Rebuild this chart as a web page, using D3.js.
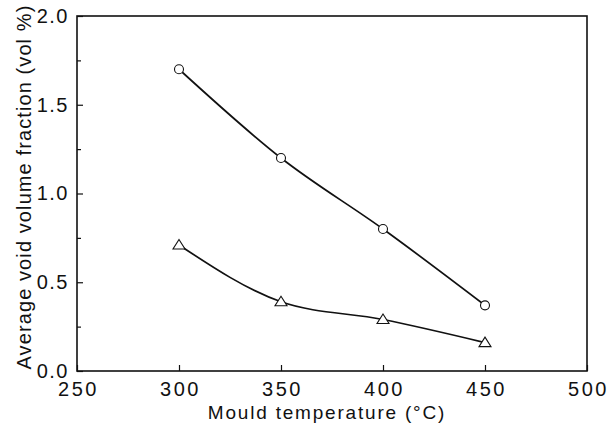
<!DOCTYPE html>
<html>
<head>
<meta charset="utf-8">
<script src="https://cdn.jsdelivr.net/npm/d3@7"></script>
<style>
  body { margin: 0; background: #fff; }
  text { font-family: "Liberation Sans", Arial, sans-serif; fill: #111; }
</style>
</head>
<body>
<script>
// page size
var w = 614;
var h = 426;

// data
var temps = [300, 350, 400, 450];
var circleVals = [1.70, 1.20, 0.80, 0.37];
var triangleVals = [0.71, 0.39, 0.29, 0.16];
var xTicks = [250, 300, 350, 400, 450, 500];
var yTicks = [0, 0.5, 1.0, 1.5, 2.0];
var yMinor = [0.25, 0.75, 1.25, 1.75];

var margin = {left: 77, right: 27, top: 16, bottom: 55};

var svg = d3.select("body").append("svg")
  .attr("width", w)
  .attr("height", h);

var x = d3.scaleLinear().domain([250, 500]).range([margin.left, w - margin.right]);
var y = d3.scaleLinear().domain([0, 2]).range([h - margin.bottom, margin.top]);

// frame
svg.append("rect")
  .attr("x", x(250)).attr("y", y(2))
  .attr("width", x(500) - x(250)).attr("height", y(0) - y(2))
  .attr("fill", "none").attr("stroke", "#111").attr("stroke-width", 1.6);

// axes, ticks pointing inward
var xAxis = svg.append("g")
  .attr("class", "xaxis")
  .attr("transform", "translate(0," + y(0) + ")")
  .call(d3.axisBottom(x).tickValues(xTicks).tickSizeInner(-6).tickSizeOuter(0).tickPadding(11)
    .tickFormat(d3.format("d")));
var yAxis = svg.append("g")
  .attr("class", "yaxis")
  .attr("transform", "translate(" + x(250) + ",0)")
  .call(d3.axisLeft(y).tickValues(yTicks).tickSizeInner(-6).tickSizeOuter(0).tickPadding(8)
    .tickFormat(d3.format(".1f")));
svg.append("g")
  .attr("transform", "translate(" + x(250) + ",0)")
  .call(d3.axisLeft(y).tickValues(yMinor).tickSizeInner(-4).tickSizeOuter(0).tickFormat(""));

svg.selectAll(".domain").remove();
svg.selectAll(".tick line").attr("stroke", "#111").attr("stroke-width", 1.2);
svg.selectAll(".tick text").style("font-size", "20px").attr("fill", "#111");
xAxis.selectAll(".tick text").style("letter-spacing", "2.5px").attr("dx", "1px");
yAxis.selectAll(".tick text").style("letter-spacing", "1.5px");

// titles
svg.append("text")
  .attr("x", 327)
  .attr("y", 419)
  .attr("text-anchor", "middle")
  .style("font-size", "19px")
  .style("letter-spacing", "1.8px")
  .text("Mould temperature (\u00B0C)");

svg.append("text")
  .attr("transform", "translate(31,187) rotate(-90)")
  .attr("text-anchor", "middle")
  .style("font-size", "20px")
  .style("letter-spacing", "1.1px")
  .text("Average void volume fraction (vol %)");

var line = d3.line()
  .x(function(d) { return x(d[0]); })
  .y(function(d) { return y(d[1]); })
  .curve(d3.curveMonotoneX);

var circleData = d3.zip(temps, circleVals);
var triData = d3.zip(temps, triangleVals);

svg.append("path").datum(circleData)
  .attr("d", line).attr("fill", "none").attr("stroke", "#111").attr("stroke-width", 1.7);
svg.append("path").datum(triData)
  .attr("d", line).attr("fill", "none").attr("stroke", "#111").attr("stroke-width", 1.7);

svg.selectAll(".circ")
  .data(circleData).enter()
  .append("circle")
  .attr("class", "circ")
  .attr("cx", function(d) { return x(d[0]); })
  .attr("cy", function(d) { return y(d[1]); })
  .attr("r", 4.5)
  .attr("fill", "#fff").attr("stroke", "#111").attr("stroke-width", 1.1);

svg.selectAll(".tri")
  .data(triData).enter()
  .append("path")
  .attr("class", "tri")
  .attr("transform", function(d) { return "translate(" + x(d[0]) + "," + y(d[1]) + ")"; })
  .attr("d", "M0,-5.5L6,4L-6,4Z")
  .attr("fill", "#fff").attr("stroke", "#111").attr("stroke-width", 1.1);
</script>
</body>
</html>
